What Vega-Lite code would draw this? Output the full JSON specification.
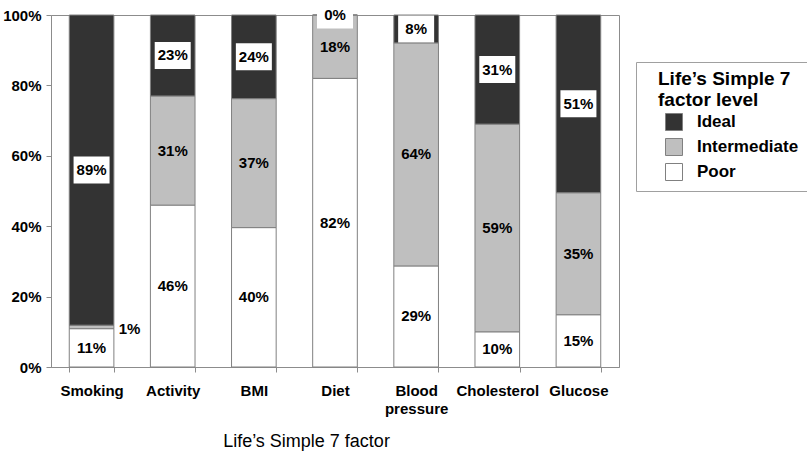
{
  "$schema": "https://vega.github.io/schema/vega-lite/v6.json",
  "width": 568,
  "height": 352,
  "autosize": {"type": "none"},
  "padding": {"left": 51, "top": 15, "right": 188, "bottom": 85},
  "background": "white",
  "config": {
    "font": "Liberation Sans",
    "view": {"stroke": "#8c8c8c", "strokeWidth": 1}
  },
  "data": {
    "values": [
      {"factor": "Smoking", "level": "Poor", "pct": 0.11},
      {"factor": "Smoking", "level": "Intermediate", "pct": 0.01},
      {"factor": "Smoking", "level": "Ideal", "pct": 0.89},
      {"factor": "Activity", "level": "Poor", "pct": 0.46},
      {"factor": "Activity", "level": "Intermediate", "pct": 0.31},
      {"factor": "Activity", "level": "Ideal", "pct": 0.23},
      {"factor": "BMI", "level": "Poor", "pct": 0.40},
      {"factor": "BMI", "level": "Intermediate", "pct": 0.37},
      {"factor": "BMI", "level": "Ideal", "pct": 0.24},
      {"factor": "Diet", "level": "Poor", "pct": 0.82},
      {"factor": "Diet", "level": "Intermediate", "pct": 0.18},
      {"factor": "Diet", "level": "Ideal", "pct": 0.0},
      {"factor": "Blood pressure", "level": "Poor", "pct": 0.29},
      {"factor": "Blood pressure", "level": "Intermediate", "pct": 0.64},
      {"factor": "Blood pressure", "level": "Ideal", "pct": 0.08},
      {"factor": "Cholesterol", "level": "Poor", "pct": 0.10},
      {"factor": "Cholesterol", "level": "Intermediate", "pct": 0.59},
      {"factor": "Cholesterol", "level": "Ideal", "pct": 0.31},
      {"factor": "Glucose", "level": "Poor", "pct": 0.15},
      {"factor": "Glucose", "level": "Intermediate", "pct": 0.35},
      {"factor": "Glucose", "level": "Ideal", "pct": 0.51}
    ]
  },
  "transform": [
    {"stack": "pct", "groupby": ["factor"], "sort": [{"field": "level", "order": "descending"}], "offset": "normalize", "as": ["y0", "y1"]},
    {"calculate": "(datum.y0 + datum.y1) / 2", "as": "ymid"}
  ],
  "encoding": {
    "x": {
      "field": "factor",
      "type": "nominal",
      "sort": ["Smoking", "Activity", "BMI", "Diet", "Blood pressure", "Cholesterol", "Glucose"],
      "scale": {"paddingInner": 0.45, "paddingOuter": 0.225},
      "axis": {
        "labelAngle": 0,
        "labelFontSize": 15,
        "labelFontWeight": "bold",
        "labelColor": "black",
        "labelPadding": 11,
        "labelLineHeight": 18,
        "labelExpr": "datum.value == 'Blood pressure' ? ['Blood', 'pressure'] : datum.value",
        "tickBand": "extent",
        "tickSize": 5,
        "tickColor": "#8c8c8c",
        "domainColor": "#8c8c8c",
        "title": "Life’s Simple 7 factor",
        "titleFontSize": 18,
        "titleFontWeight": "normal",
        "titleColor": "black",
        "titleX": 255,
        "titlePadding": 16
      }
    }
  },
  "layer": [
    {
      "mark": {"type": "bar", "stroke": "#808080", "strokeWidth": 1},
      "encoding": {
        "y": {
          "field": "y0",
          "type": "quantitative",
          "scale": {"domain": [0, 1]},
          "axis": {
            "values": [0, 0.2, 0.4, 0.6, 0.8, 1],
            "format": ".0%",
            "labelFontSize": 15,
            "labelFontWeight": "bold",
            "labelColor": "black",
            "labelPadding": 5,
            "tickSize": 5,
            "tickColor": "#8c8c8c",
            "domainColor": "#8c8c8c",
            "grid": false,
            "title": null
          }
        },
        "y2": {"field": "y1"},
        "color": {
          "field": "level",
          "type": "nominal",
          "scale": {"domain": ["Ideal", "Intermediate", "Poor"], "range": ["#333333", "#bfbfbf", "#ffffff"]},
          "legend": {
            "orient": "none",
            "legendX": 585,
            "legendY": 47,
            "title": ["Life’s Simple 7", "factor level"],
            "titleFontSize": 19,
            "titleFontWeight": "bold",
            "titleColor": "black",
            "titleLineHeight": 21,
            "titleAnchor": "start",
            "titlePadding": 3,
            "labelFontSize": 17,
            "labelFontWeight": "bold",
            "labelColor": "black",
            "labelOffset": 14,
            "symbolType": "square",
            "symbolSize": 289,
            "symbolOffset": 21,
            "symbolStrokeColor": "#808080",
            "symbolStrokeWidth": 1,
            "symbolOpacity": 1,
            "rowPadding": 3,
            "padding": 8,
            "strokeColor": "#a0a0a0",
            "fillColor": "white",
            "encode": {
              "title": {
                "update": {
                  "dx": {"value": 14}
                }
              },
              "symbols": {
                "update": {
                  "fill": {"signal": "datum.value === 'Ideal' ? '#000000' : (datum.value === 'Intermediate' ? '#bfbfbf' : '#ffffff')"},
                  "stroke": {"value": "#808080"},
                  "strokeWidth": {"value": 1},
                  "opacity": {"value": 1}
                }
              }
            }
          }
        }
      }
    },
    {
      "transform": [{"filter": "datum.level == 'Ideal'"}],
      "mark": {"type": "point", "shape": "M-1,-0.75H1V0.75H-1Z", "filled": true, "fill": "white", "strokeWidth": 0, "opacity": 1, "size": 1296},
      "encoding": {
        "y": {"field": "ymid", "type": "quantitative"}
      }
    },
    {
      "transform": [{"filter": "!(datum.factor == 'Smoking' && datum.level == 'Intermediate')"}],
      "mark": {"type": "text", "fontSize": 15, "fontWeight": "bold", "color": "black", "baseline": "middle"},
      "encoding": {
        "y": {"field": "ymid", "type": "quantitative"},
        "text": {"field": "pct", "type": "quantitative", "format": ".0%"}
      }
    },
    {
      "transform": [{"filter": "datum.factor == 'Smoking' && datum.level == 'Intermediate'"}],
      "mark": {"type": "text", "fontSize": 15, "fontWeight": "bold", "color": "black", "baseline": "middle", "dx": 38, "dy": 2},
      "encoding": {
        "y": {"field": "ymid", "type": "quantitative"},
        "text": {"field": "pct", "type": "quantitative", "format": ".0%"}
      }
    }
  ]
}
